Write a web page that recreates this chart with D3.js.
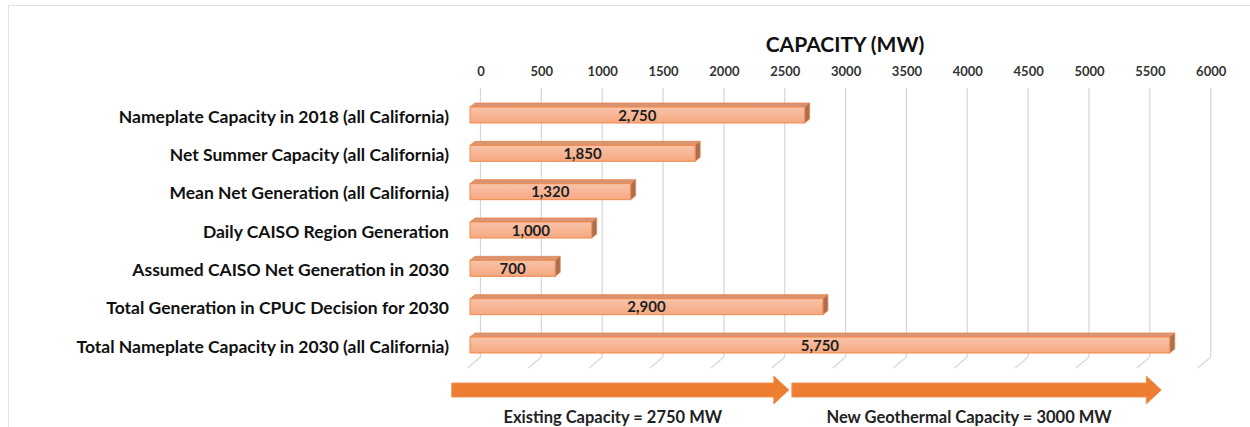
<!DOCTYPE html>
<html>
<head>
<meta charset="utf-8">
<script src="https://cdn.jsdelivr.net/npm/d3@7"></script>
<style>
  html, body { margin: 0; padding: 0; background: #fff; }
  svg { display: block; font-family: Lato, "Open Sans", sans-serif; }
</style>
</head>
<body>
<svg id="chart" width="1250" height="427"></svg>
<script>
// Geothermal capacity comparison (MW)
const categories = [
  "Nameplate Capacity in 2018 (all California)",
  "Net Summer Capacity (all California)",
  "Mean Net Generation (all California)",
  "Daily CAISO Region Generation",
  "Assumed CAISO Net Generation in 2030",
  "Total Generation in CPUC Decision for 2030",
  "Total Nameplate Capacity in 2030 (all California)"
];
const values = [2750, 1850, 1320, 1000, 700, 2900, 5750];
const tickValues = [0, 500, 1000, 1500, 2000, 2500, 3000, 3500, 4000, 4500, 5000, 5500, 6000];
const axisTitle = "CAPACITY (MW)";

// Bottom annotation arrows, spans given in MW along the capacity axis
const arrowLabels = ["Existing Capacity = 2750 MW", "New Geothermal Capacity = 3000 MW"];
const arrowSpans = [[-150, 2620], [2645, 5680]];

const svg = d3.select("#chart");

// Frame lines
svg.append("line").attr("x1", 8).attr("x2", 1250).attr("y1", 5.5).attr("y2", 5.5)
  .attr("stroke", "#e3e3e3").attr("stroke-width", 1);
svg.append("line").attr("x1", 8.5).attr("x2", 8.5).attr("y1", 5).attr("y2", 427)
  .attr("stroke", "#e3e3e3").attr("stroke-width", 1);

// Scales: front plane of the bars and back wall of the 3D plot
const xFront = d3.scaleLinear().domain([0, 6000]).range([470, 1200.2]);
const xBack = d3.scaleLinear().domain([0, 6000]).range([480.5, 1210.7]);
const y = d3.scalePoint().domain(categories).range([115, 345]);

const wallTop = 88, wallBottom = 357;
const floorDx = -13, floorDy = 11;
const barH = 16, depthX = 5, depthY = 4;

// Gridlines on back wall plus floor diagonals
const grid = svg.append("g");
grid.selectAll("line.v").data(tickValues).join("line")
  .attr("class", "v")
  .attr("x1", d => xBack(d)).attr("x2", d => xBack(d))
  .attr("y1", wallTop).attr("y2", wallBottom)
  .attr("stroke", "#d6d6d6").attr("stroke-width", 1.2);
grid.selectAll("line.f").data(tickValues).join("line")
  .attr("class", "f")
  .attr("x1", d => xBack(d)).attr("x2", d => xBack(d) + floorDx)
  .attr("y1", wallBottom).attr("y2", wallBottom + floorDy)
  .attr("stroke", "#d6d6d6").attr("stroke-width", 1.2);

// Top axis
const axis = d3.axisTop(xBack).tickValues(tickValues).tickSize(0).tickPadding(0).tickFormat(d3.format("d"));
const axisG = svg.append("g").attr("transform", "translate(0,76)").call(axis);
axisG.select(".domain").remove();
axisG.selectAll("text")
  .attr("font-family", "Lato, sans-serif").attr("font-weight", 700)
  .attr("font-size", 13).attr("fill", "#333").attr("dy", 0);

svg.append("text").attr("x", 845).attr("y", 52).attr("text-anchor", "middle")
  .attr("font-size", 21).attr("font-weight", 700).attr("fill", "#111")
  .text(axisTitle);

// Bar gradient
const defs = svg.append("defs");
const grad = defs.append("linearGradient").attr("id", "barFront")
  .attr("x1", 0).attr("x2", 0).attr("y1", 0).attr("y2", 1);
grad.append("stop").attr("offset", "0%").attr("stop-color", "#f9c3a9");
grad.append("stop").attr("offset", "100%").attr("stop-color", "#f5a880");

const bars = svg.append("g").selectAll("g").data(values).join("g");
const top0 = (d, i) => y(categories[i]) - barH / 2;

// top face
bars.append("path")
  .attr("d", (d, i) => {
    const t = top0(d, i), x0 = xFront(0), x1 = xFront(d);
    return `M${x0},${t} L${x0 + depthX},${t - depthY} L${x1 + depthX},${t - depthY} L${x1},${t} Z`;
  })
  .attr("fill", "#d99573").attr("stroke", "#e8844a").attr("stroke-width", 0.8);
// side face
bars.append("path")
  .attr("d", (d, i) => {
    const t = top0(d, i), x1 = xFront(d);
    return `M${x1},${t} L${x1 + depthX},${t - depthY} L${x1 + depthX},${t - depthY + barH} L${x1},${t + barH} Z`;
  })
  .attr("fill", "#a96f50").attr("stroke", "#e8844a").attr("stroke-width", 0.8);
// front face
bars.append("rect")
  .attr("x", xFront(0))
  .attr("y", (d, i) => top0(d, i))
  .attr("width", d => xFront(d) - xFront(0))
  .attr("height", barH)
  .attr("fill", "url(#barFront)").attr("stroke", "#ef8a4c").attr("stroke-width", 1);
// value labels
bars.append("text")
  .attr("x", d => (xFront(0) + xFront(d)) / 2)
  .attr("y", (d, i) => y(categories[i]) + 5.5)
  .attr("text-anchor", "middle")
  .attr("font-size", 15).attr("font-weight", 700).attr("fill", "#1e1e1e")
  .text(d => d3.format(",")(d));

// Category labels
svg.append("g").selectAll("text").data(categories).join("text")
  .attr("x", 449).attr("y", d => y(d) + 7.5)
  .attr("text-anchor", "end")
  .attr("font-size", 17.5).attr("font-weight", 700).attr("fill", "#111")
  .text(d => d);

// Arrows
const arrowMid = 390, shaftH = 14, headH = 28, headL = 15;
const arrows = svg.append("g").selectAll("g").data(arrowSpans).join("g");
arrows.append("path")
  .attr("d", d => {
    const a = xFront(d[0]), b = xFront(d[1]);
    const hb = b - headL;
    return `M${a},${arrowMid - shaftH / 2} L${hb},${arrowMid - shaftH / 2} L${hb},${arrowMid - headH / 2}` +
      ` L${b},${arrowMid} L${hb},${arrowMid + headH / 2} L${hb},${arrowMid + shaftH / 2}` +
      ` L${a},${arrowMid + shaftH / 2} Z`;
  })
  .attr("fill", "#ed7d31").attr("stroke", "#f0945a").attr("stroke-width", 1);
arrows.append("text")
  .attr("x", d => (xFront(d[0]) + xFront(d[1]) - headL) / 2)
  .attr("y", 423)
  .attr("text-anchor", "middle")
  .attr("font-size", 16.5).attr("font-weight", 700).attr("fill", "#222")
  .text((d, i) => arrowLabels[i]);
</script>
</body>
</html>
